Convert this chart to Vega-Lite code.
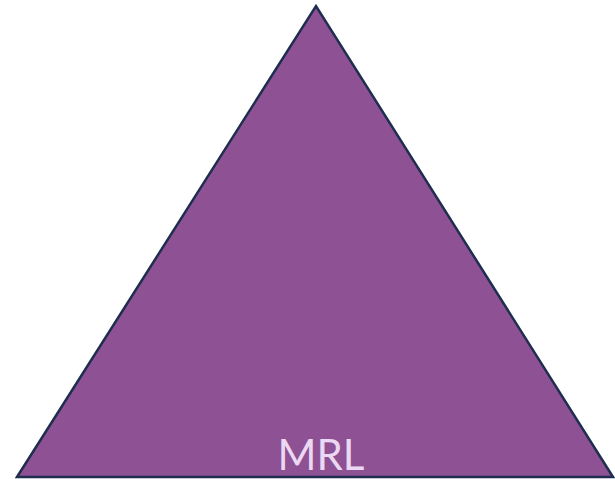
{
  "$schema": "https://vega.github.io/schema/vega-lite/v6.json",
  "width": 615,
  "height": 479,
  "autosize": {"type": "none"},
  "padding": 0,
  "background": "white",
  "config": {"view": {"stroke": null}},
  "layer": [
    {
      "data": {"values": [
        {"x": 17, "y": 2, "y0": 2},
        {"x": 316, "y": 473, "y0": 2},
        {"x": 613, "y": 2, "y0": 2}
      ]},
      "mark": {"type": "area", "color": "#8E5194", "stroke": "#1F2E4F", "strokeWidth": 2.5, "opacity": 1, "fillOpacity": 1},
      "encoding": {
        "x": {"field": "x", "type": "quantitative", "scale": {"domain": [0, 615], "nice": false, "zero": false}, "axis": null},
        "y": {"field": "y", "type": "quantitative", "scale": {"domain": [0, 479], "nice": false, "zero": false}, "axis": null},
        "y2": {"field": "y0"}
      }
    },
    {
      "data": {"values": [{"label": "MRL", "x": 321, "y": 9}]},
      "mark": {"type": "text", "font": "Lato", "fontSize": 42, "color": "#EBD8F2", "align": "center", "baseline": "alphabetic"},
      "encoding": {
        "x": {"field": "x", "type": "quantitative", "scale": {"domain": [0, 615], "nice": false, "zero": false}, "axis": null},
        "y": {"field": "y", "type": "quantitative", "scale": {"domain": [0, 479], "nice": false, "zero": false}, "axis": null},
        "text": {"field": "label"}
      }
    }
  ]
}
